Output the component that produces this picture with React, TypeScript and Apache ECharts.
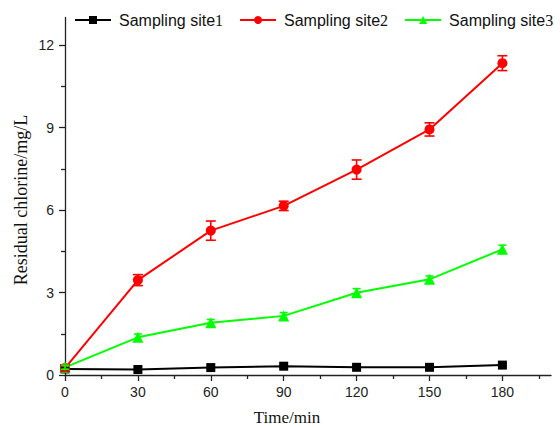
import React, { useEffect, useRef } from 'react';
import * as echarts from 'echarts';

const times = [0, 30, 60, 90, 120, 150, 180];
const seriesNames = ['Sampling site1', 'Sampling site2', 'Sampling site3'];
const site1 = [0.22, 0.2, 0.27, 0.32, 0.28, 0.28, 0.36];
const site1Err = [0.05, 0.06, 0.06, 0.06, 0.06, 0.06, 0.06];
const site2 = [0.25, 3.45, 5.25, 6.15, 7.47, 8.93, 11.34];
const site2Err = [0.12, 0.2, 0.35, 0.17, 0.35, 0.24, 0.27];
const site3 = [0.28, 1.37, 1.9, 2.15, 2.99, 3.48, 4.57];
const site3Err = [0.08, 0.12, 0.12, 0.12, 0.15, 0.12, 0.15];
const xMajorTicks = [0, 30, 60, 90, 120, 150, 180];
const xMinorTicks = [15, 45, 75, 105, 135, 165, 195];
const yMajorTicks = [0, 3, 6, 9, 12];
const yMinorTicks = [1.5, 4.5, 7.5, 10.5];

const colors = ['#000000', '#ff0000', '#00ff00'];
const symbols = ['rect', 'circle', 'triangle'];
const symbolSizes = [9, 10, 11];
const capHalf = [4, 5, 4];

export default function App() {
  const ref = useRef<HTMLDivElement>(null);
  useEffect(() => {
    const chart = echarts.init(ref.current!, null, { renderer: 'svg' });
    const values = [site1, site2, site3];
    const errs = [site1Err, site2Err, site3Err];
    const axisColor = '#222';
    const labelStyle = {
      fontFamily: 'Liberation Sans, Arial, sans-serif',
      fontSize: 14,
      color: '#222',
    };
    const lineSeries = values.map((vals, k) => ({
      name: seriesNames[k],
      type: 'line',
      data: times.map((t, i) => [t, vals[i]]),
      symbol: symbols[k],
      symbolSize: symbolSizes[k],
      itemStyle: { color: colors[k] },
      lineStyle: { color: colors[k], width: 2 },
      z: 2 + k,
    }));
    const errSeries = values.map((vals, k) => ({
      name: 'err' + (k + 1),
      type: 'custom',
      data: times.map((t, i) => [t, vals[i] - errs[k][i], vals[i] + errs[k][i]]),
      encode: { x: 0, y: [1, 2] },
      z: 5 + k,
      renderItem: (params: any, api: any) => {
        const x = api.value(0);
        const lo = api.coord([x, api.value(1)]);
        const hi = api.coord([x, api.value(2)]);
        const hw = capHalf[k];
        const st = { stroke: colors[k], lineWidth: 1.6 };
        return {
          type: 'group',
          children: [
            { type: 'line', shape: { x1: lo[0], y1: lo[1], x2: hi[0], y2: hi[1] }, style: st },
            { type: 'line', shape: { x1: lo[0] - hw, y1: lo[1], x2: lo[0] + hw, y2: lo[1] }, style: st },
            { type: 'line', shape: { x1: hi[0] - hw, y1: hi[1], x2: hi[0] + hw, y2: hi[1] }, style: st },
          ],
        };
      },
    }));

    chart.setOption({
      animation: false,
      backgroundColor: '#ffffff',
      grid: { left: 65, right: 9, top: 17.5, bottom: 53 },
      legend: {
        data: seriesNames,
        left: 74,
        top: 12,
        width: 486,
        padding: 0,
        itemWidth: 36,
        itemHeight: 10,
        itemGap: 16,
        textStyle: {
          fontFamily: 'Liberation Sans, Arial, sans-serif',
          fontSize: 16,
          color: '#111',
          padding: [0, 0, 0, 3],
          rich: {
            d: { fontFamily: 'Liberation Serif, serif', fontSize: 16, color: '#111' },
          },
        },
        formatter: (n: string) => n.replace(/(\d+)$/, '{d|$1}'),
      },
      xAxis: [
        {
          type: 'value',
          min: 0,
          max: 200,
          interval: 30,
          axisLine: { onZero: false, lineStyle: { color: axisColor, width: 1.3 } },
          axisTick: { customValues: xMajorTicks, length: 6, lineStyle: { color: axisColor, width: 1.3 } },
          splitLine: { show: false },
          axisLabel: { ...labelStyle, customValues: xMajorTicks, margin: 10 },
        },
        {
          type: 'value',
          position: 'bottom',
          min: 0,
          max: 200,
          axisLine: { show: false },
          axisTick: { customValues: xMinorTicks, length: 4, lineStyle: { color: axisColor, width: 1.3 } },
          splitLine: { show: false },
          axisLabel: { show: false },
        },
      ],
      yAxis: [
        {
          type: 'value',
          min: 0,
          max: 13,
          interval: 3,
          axisLine: { show: true, onZero: false, lineStyle: { color: axisColor, width: 1.3 } },
          axisTick: { show: true, customValues: yMajorTicks, length: 6, lineStyle: { color: axisColor, width: 1.3 } },
          splitLine: { show: false },
          axisLabel: { ...labelStyle, customValues: yMajorTicks, margin: 11 },
        },
        {
          type: 'value',
          position: 'left',
          min: 0,
          max: 13,
          axisLine: { show: false },
          axisTick: { show: true, customValues: yMinorTicks, length: 4, lineStyle: { color: axisColor, width: 1.3 } },
          splitLine: { show: false },
          axisLabel: { show: false },
        },
      ],
      graphic: [
        {
          type: 'text',
          x: 287,
          y: 417,
          style: {
            text: 'Time/min',
            fontFamily: 'Liberation Serif, serif',
            fontSize: 17,
            fill: '#111',
            align: 'center',
            verticalAlign: 'middle',
            textAlign: 'center',
            textVerticalAlign: 'middle',
          },
        },
        {
          type: 'text',
          x: 21,
          y: 200,
          rotation: Math.PI / 2,
          style: {
            text: 'Residual chlorine/mg/L',
            fontFamily: 'Liberation Serif, serif',
            fontSize: 18,
            fill: '#111',
            align: 'center',
            verticalAlign: 'middle',
            textAlign: 'center',
            textVerticalAlign: 'middle',
          },
        },
      ],
      series: [...lineSeries, ...errSeries],
    });
    return () => chart.dispose();
  }, []);
  return <div ref={ref} style={{ position: 'fixed', left: 0, top: 0, width: 560, height: 428 }} />;
}
